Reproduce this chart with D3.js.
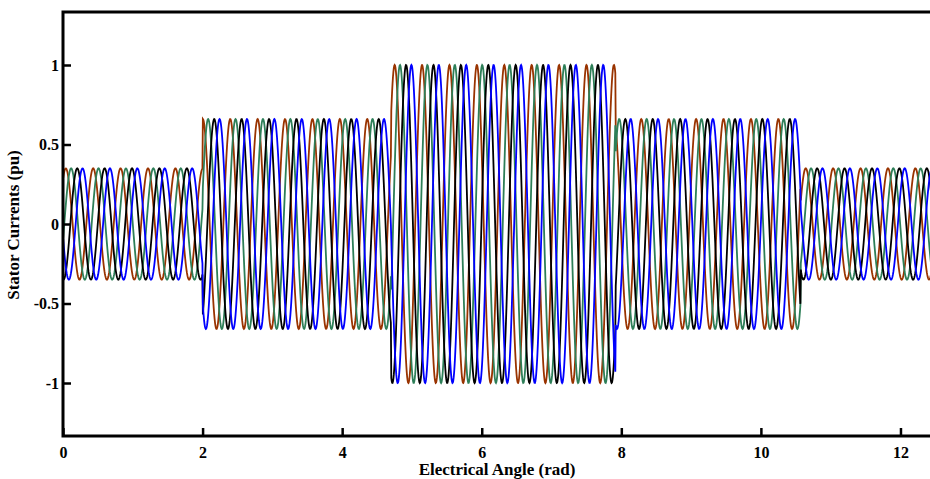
<!DOCTYPE html>
<html>
<head>
<meta charset="utf-8">
<script src="https://cdn.jsdelivr.net/npm/d3@7"></script>
<style>
  body { margin: 0; background: #fff; }
  svg text { font-family: "Liberation Serif", "Times New Roman", serif; font-weight: bold; fill: #000; }
</style>
</head>
<body>
<div id="graphWrapper"></div>
<script>
// values
var segmentEdges = [0, 2.0, 4.7, 7.92, 10.57, 4 * Math.PI];   // rad, where the current level steps
var segmentAmps  = [0.35, 0.66, 1.0, 0.66, 0.35];             // pu peak in each step
var harmonic     = 16;                                        // cycles per 2*pi of electrical angle
var phaseNames   = ["ia", "ib", "ic", "id"];
var phaseColors  = ["#993300", "#2e7f58", "#000000", "#0000ff"];
var phaseLagDeg  = [0, 70, 150, 220];
var phaseStart   = 0.04;                                      // rad, first peak of ia
var xTicks = [0, 2, 4, 6, 8, 10, 12];
var yTicks = [-1, -0.5, 0, 0.5, 1];

var w = 930, h = 479;
var margin = { top: 12, bottom: 43, left: 63, right: -10 };

var svg = d3.select("#graphWrapper").append("svg")
    .attr("width", w)
    .attr("height", h);

var x = d3.scaleLinear()
    .domain([0, 4 * Math.PI])
    .range([margin.left, w - margin.right]);
var y = d3.scaleLinear()
    .domain([-4 / 3, 4 / 3])
    .range([h - margin.bottom, margin.top]);

// sample the phase currents from the step levels above
function ampAt(t){
    for (var i = 0; i < segmentAmps.length; i++) {
        if (t < segmentEdges[i + 1]) return segmentAmps[i];
    }
    return segmentAmps[segmentAmps.length - 1];
}
var angles = d3.range(0, 4 * Math.PI, 0.006);
var series = phaseNames.map(function(name, k){
    return {
        name: name,
        color: phaseColors[k],
        values: angles.map(function(t){
            var ph = harmonic * (t - phaseStart) - phaseLagDeg[k] * Math.PI / 180;
            return { t: t, v: ampAt(t) * Math.cos(ph) };
        })
    };
});

svg.append("clipPath").attr("id", "plotClip")
    .append("rect")
    .attr("x", margin.left).attr("y", margin.top)
    .attr("width", w - margin.left).attr("height", h - margin.bottom - margin.top);

var line = d3.line()
    .x(function(d){ return x(d.t); })
    .y(function(d){ return y(d.v); });

svg.append("g")
    .attr("clip-path", "url(#plotClip)")
    .selectAll(".trendline")
    .data(series)
    .enter()
    .append("path")
    .classed("trendline", true)
    .attr("fill", "none")
    .attr("stroke", function(d){ return d.color; })
    .attr("stroke-width", 1.8)
    .attr("d", function(d){ return line(d.values); });

// axes, ticks inside like the matlab box
var xAxis = d3.axisBottom(x).tickValues(xTicks).tickSize(-8).tickPadding(11)
    .tickFormat(d3.format("d"));
var yAxis = d3.axisLeft(y).tickValues(yTicks).tickSize(-8).tickPadding(4)
    .tickFormat(function(d){ return d === 0 ? "0" : String(d); });

svg.append("g")
    .classed("x axis", true)
    .attr("transform", "translate(0," + y.range()[0] + ")")
    .call(xAxis);
svg.append("g")
    .classed("y axis", true)
    .attr("transform", "translate(" + margin.left + ",0)")
    .call(yAxis);

svg.selectAll(".axis .domain").remove();
svg.selectAll(".axis line").attr("stroke", "#000").attr("stroke-width", 2.5);
svg.selectAll(".axis text").style("font-size", "16px");

// box frame
svg.append("rect")
    .attr("x", margin.left)
    .attr("y", margin.top)
    .attr("width", x.range()[1] - margin.left)
    .attr("height", y.range()[0] - margin.top)
    .attr("fill", "none")
    .attr("stroke", "#000")
    .attr("stroke-width", 3);

//x label
svg.append("text")
    .attr("x", 497)
    .attr("y", 475)
    .attr("text-anchor", "middle")
    .style("font-size", "17px")
    .text("Electrical Angle (rad)");
//y label
svg.append("text")
    .attr("transform", "translate(19," + 225 + ") rotate(-90)")
    .attr("text-anchor", "middle")
    .style("font-size", "17px")
    .text("Stator Currents (pu)");
</script>
</body>
</html>
